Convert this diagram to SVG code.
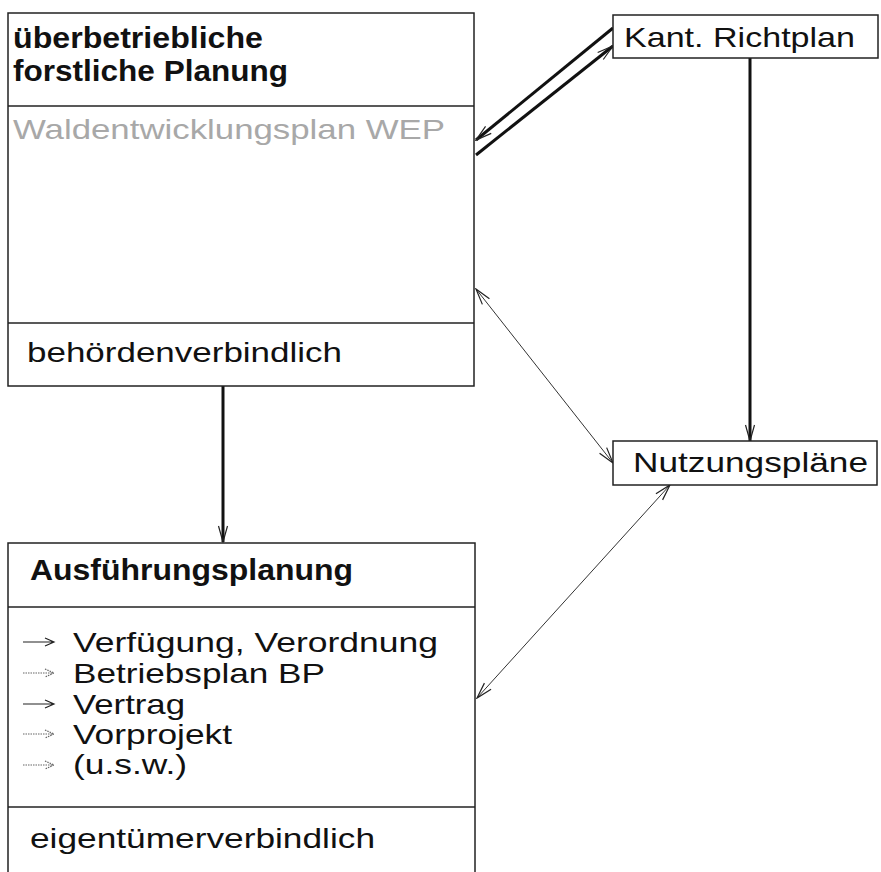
<svg xmlns="http://www.w3.org/2000/svg" width="881" height="872" viewBox="0 0 881 872">
<defs>
<style>
.box{fill:#fff;stroke:#222;stroke-width:1.5}
.div{stroke:#222;stroke-width:1.5}
.t{font-family:"Liberation Sans",Arial,sans-serif;font-size:28px;fill:#111}
.b{font-weight:bold;font-size:29px}
.g{fill:#a8a8a8}
.thick{stroke:#111;stroke-width:3;fill:none}
.thin{stroke:#333;stroke-width:1;fill:none}
.la{stroke:#222;stroke-width:1.2;fill:none}
.lg{stroke:#666;stroke-width:1.2;fill:none;stroke-dasharray:1.5 1}
</style>
<marker id="ah" markerUnits="userSpaceOnUse" markerWidth="18" markerHeight="14" viewBox="0 0 18 14" refX="17" refY="7" orient="auto-start-reverse">
<path d="M1,2.5 L17,7 L1,11.5" fill="none" stroke="#222" stroke-width="1.2"/>
</marker>
</defs>
<rect width="881" height="872" fill="#fff"/>

<g id="connectors">
<line class="thick" x1="613" y1="28" x2="476" y2="140" marker-end="url(#ah)"/>
<line class="thick" x1="476" y1="155" x2="613" y2="46" marker-end="url(#ah)"/>
<line class="thick" x1="750" y1="58" x2="750" y2="441" marker-end="url(#ah)"/>
<line class="thick" x1="223" y1="386" x2="223" y2="542" marker-end="url(#ah)"/>
<line class="thin" x1="476" y1="289" x2="613" y2="463" marker-start="url(#ah)" marker-end="url(#ah)"/>
<line class="thin" x1="670" y1="485" x2="477" y2="698" marker-start="url(#ah)" marker-end="url(#ah)"/>
</g>

<g id="ueberbetriebliche-planung">
<rect class="box" x="8" y="13" width="466" height="373"/>
<line class="div" x1="8" y1="106" x2="474" y2="106"/>
<line class="div" x1="8" y1="323" x2="474" y2="323"/>
<text class="t b" x="13" y="48" textLength="250" lengthAdjust="spacingAndGlyphs">überbetriebliche</text>
<text class="t b" x="13" y="81" textLength="275" lengthAdjust="spacingAndGlyphs">forstliche Planung</text>
<text class="t g" x="13" y="139" textLength="432" lengthAdjust="spacingAndGlyphs">Waldentwicklungsplan WEP</text>
<text class="t" x="27" y="362" textLength="315" lengthAdjust="spacingAndGlyphs">behördenverbindlich</text>
</g>

<g id="kant-richtplan">
<rect class="box" x="613" y="15" width="265" height="43"/>
<text class="t" x="624" y="47" textLength="231" lengthAdjust="spacingAndGlyphs">Kant. Richtplan</text>
</g>

<g id="nutzungsplaene">
<rect class="box" x="613" y="441" width="264" height="44"/>
<text class="t" x="633" y="472" textLength="235" lengthAdjust="spacingAndGlyphs">Nutzungspläne</text>
</g>

<g id="ausfuehrungsplanung">
<rect class="box" x="8" y="543" width="467" height="340"/>
<line class="div" x1="8" y1="607" x2="475" y2="607"/>
<line class="div" x1="8" y1="807" x2="475" y2="807"/>
<text class="t b" x="30" y="580" textLength="323" lengthAdjust="spacingAndGlyphs">Ausführungsplanung</text>
<path class="la" d="M23,642 H53 M45,638 L54,642 L45,646"/>
<text class="t" x="73" y="652" textLength="365" lengthAdjust="spacingAndGlyphs">Verfügung, Verordnung</text>
<path class="lg" d="M23,673 H53 M45,669 L54,673 L45,677"/>
<text class="t" x="73" y="683" textLength="252" lengthAdjust="spacingAndGlyphs">Betriebsplan BP</text>
<path class="la" d="M23,704 H53 M45,700 L54,704 L45,708"/>
<text class="t" x="73" y="714" textLength="112" lengthAdjust="spacingAndGlyphs">Vertrag</text>
<path class="lg" d="M23,734 H53 M45,730 L54,734 L45,738"/>
<text class="t" x="73" y="744" textLength="159" lengthAdjust="spacingAndGlyphs">Vorprojekt</text>
<path class="lg" d="M23,765 H53 M45,761 L54,765 L45,769"/>
<text class="t" x="73" y="774" textLength="114" lengthAdjust="spacingAndGlyphs">(u.s.w.)</text>
<text class="t" x="30" y="848" textLength="345" lengthAdjust="spacingAndGlyphs">eigentümerverbindlich</text>
</g>
</svg>
